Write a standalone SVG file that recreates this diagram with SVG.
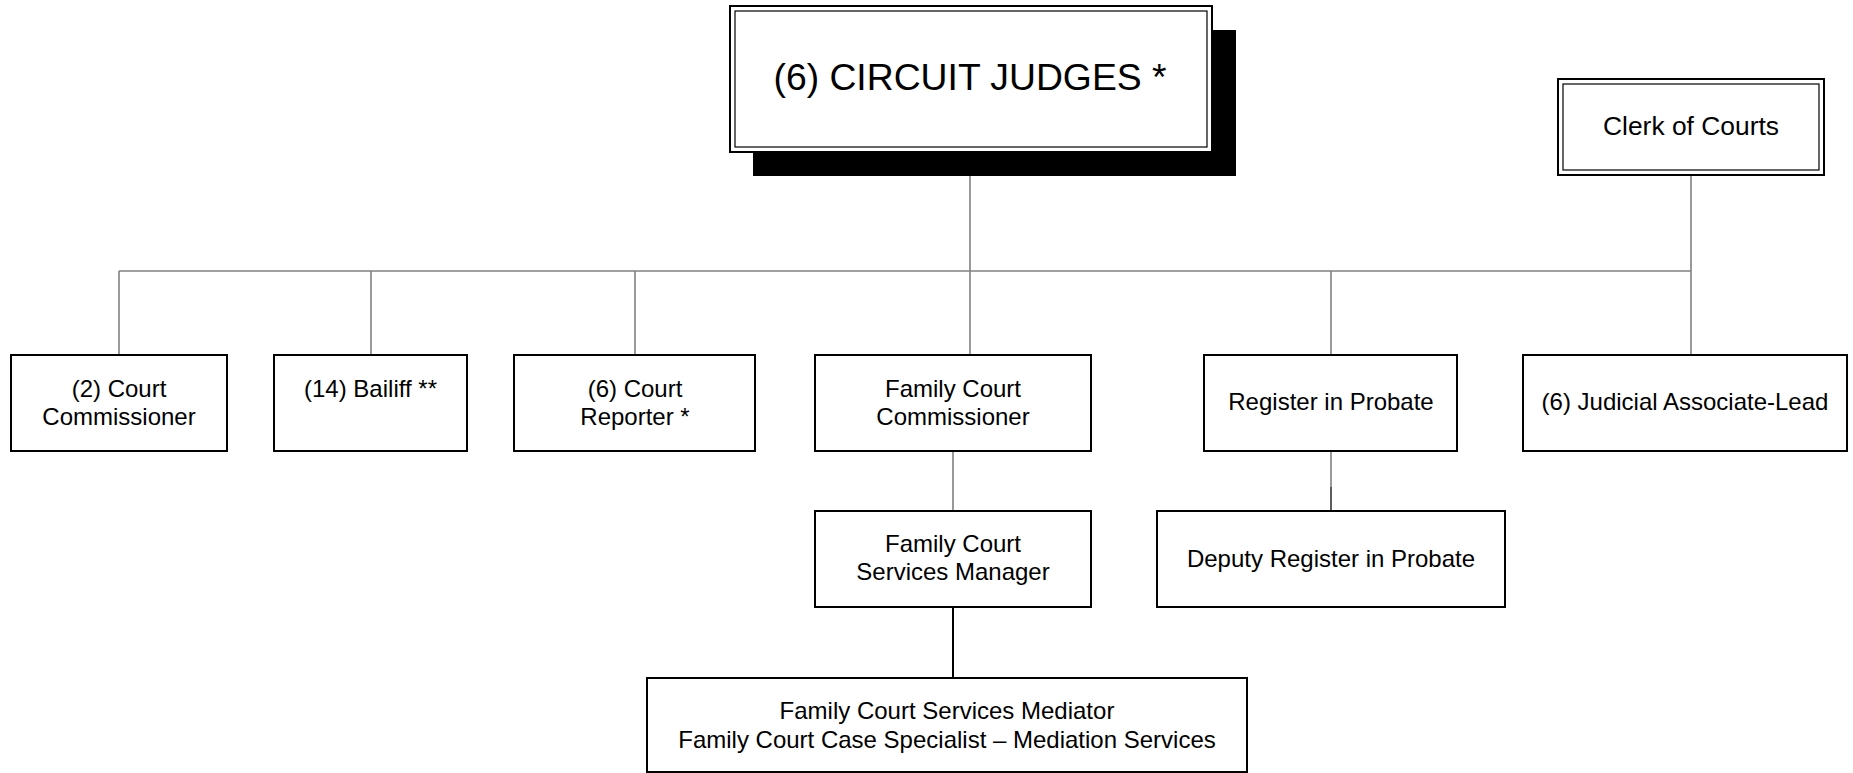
<svg xmlns="http://www.w3.org/2000/svg" width="1853" height="773" viewBox="0 0 1853 773">
<style>
.box{fill:#fff;stroke:#000;stroke-width:2}
.inner{fill:none;stroke:#000;stroke-width:1.2}
.t{font-family:"Liberation Sans",Arial,sans-serif;font-size:24px;fill:#000;text-anchor:middle}
.big{font-size:37.3px}
.mid{font-size:26.4px}
.c{stroke:#808080;stroke-width:1.6;fill:none}
.cd{stroke:#333;stroke-width:1.6;fill:none}
</style>
<rect width="1853" height="773" fill="#fff"/>
<g id="connectors">
<line class="c" x1="970" y1="176" x2="970" y2="355"/>
<line class="c" x1="119" y1="271" x2="1691" y2="271"/>
<line class="c" x1="1691" y1="176" x2="1691" y2="355"/>
<line class="c" x1="119" y1="271" x2="119" y2="355"/>
<line class="c" x1="371" y1="271" x2="371" y2="355"/>
<line class="c" x1="635" y1="271" x2="635" y2="355"/>
<line class="c" x1="1331" y1="271" x2="1331" y2="355"/>
<line class="c" x1="953" y1="451" x2="953" y2="511"/>
<line class="c" x1="1331" y1="451" x2="1331" y2="487"/>
<line class="cd" x1="1331" y1="487" x2="1331" y2="511"/>
<line stroke="#000" stroke-width="2" x1="953" y1="607" x2="953" y2="678"/>
</g>
<g id="judges">
<rect x="753" y="30" width="483" height="146" fill="#000"/>
<rect class="box" x="730" y="6" width="482" height="146"/>
<rect class="inner" x="735" y="11" width="472" height="136"/>
<text class="t big" x="970" y="90">(6) CIRCUIT JUDGES *</text>
</g>
<g id="clerk">
<rect class="box" x="1558" y="79" width="266" height="96"/>
<rect class="inner" x="1563" y="84" width="256" height="86"/>
<text class="t mid" x="1691" y="135">Clerk of Courts</text>
</g>
<g id="court-commissioner">
<rect class="box" x="11" y="355" width="216" height="96"/>
<text class="t" x="119" y="397">(2) Court</text>
<text class="t" x="119" y="425">Commissioner</text>
</g>
<g id="bailiff">
<rect class="box" x="274" y="355" width="193" height="96"/>
<text class="t" x="370.5" y="397">(14) Bailiff **</text>
</g>
<g id="court-reporter">
<rect class="box" x="514" y="355" width="241" height="96"/>
<text class="t" x="635" y="397">(6) Court</text>
<text class="t" x="635" y="425">Reporter *</text>
</g>
<g id="family-court-commissioner">
<rect class="box" x="815" y="355" width="276" height="96"/>
<text class="t" x="953" y="397">Family Court</text>
<text class="t" x="953" y="425">Commissioner</text>
</g>
<g id="register-in-probate">
<rect class="box" x="1204" y="355" width="253" height="96"/>
<text class="t" x="1331" y="410">Register in Probate</text>
</g>
<g id="judicial-associate">
<rect class="box" x="1523" y="355" width="324" height="96"/>
<text class="t" x="1685" y="410">(6) Judicial Associate-Lead</text>
</g>
<g id="fcs-manager">
<rect class="box" x="815" y="511" width="276" height="96"/>
<text class="t" x="953" y="552">Family Court</text>
<text class="t" x="953" y="580">Services Manager</text>
</g>
<g id="deputy-register">
<rect class="box" x="1157" y="511" width="348" height="96"/>
<text class="t" x="1331" y="567">Deputy Register in Probate</text>
</g>
<g id="fcs-mediator">
<rect class="box" x="647" y="678" width="600" height="94"/>
<text class="t" x="947" y="719">Family Court Services Mediator</text>
<text class="t" x="947" y="748">Family Court Case Specialist – Mediation Services</text>
</g>
</svg>
